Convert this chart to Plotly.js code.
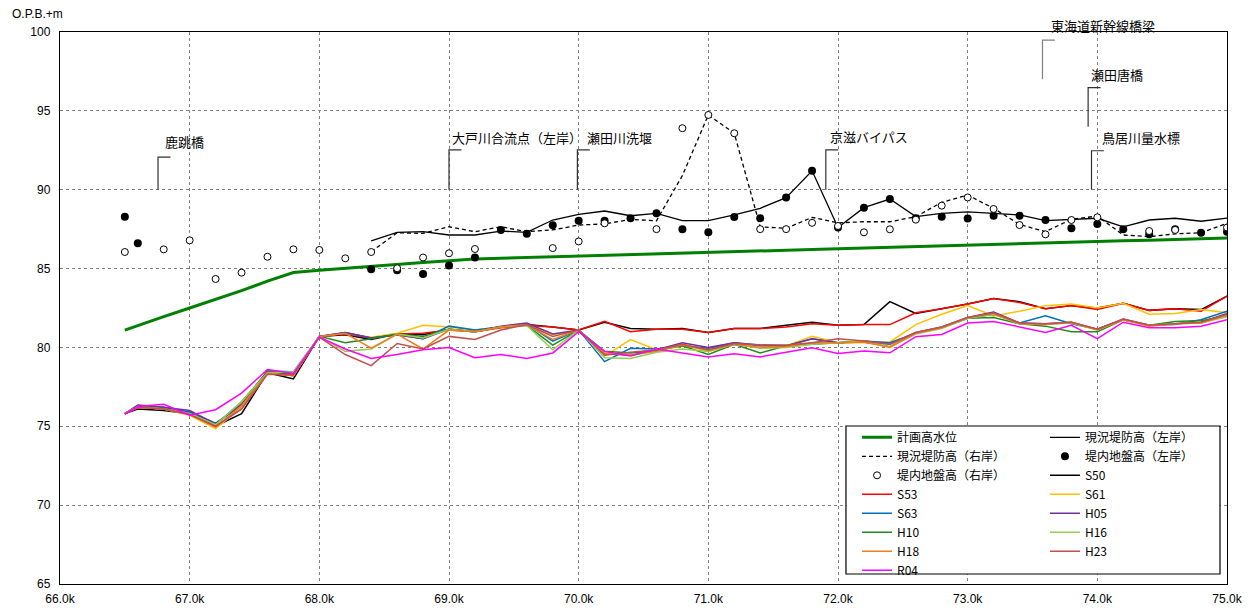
<!DOCTYPE html>
<html>
<head>
<meta charset="utf-8">
<script src="https://cdn.plot.ly/plotly-3.0.1.min.js"></script>
<style>html,body{margin:0;padding:0;background:#fff;}#chart{width:1252px;height:612px;}</style>
</head>
<body>
<div id="chart"></div>
<script>
// ---- data ----
const km = [66.5, 66.6, 66.8, 67.0, 67.2, 67.4, 67.6, 67.8, 68.0, 68.2, 68.4, 68.6, 68.8, 69.0, 69.2, 69.4, 69.6, 69.8, 70.0, 70.2, 70.4, 70.6, 70.8, 71.0, 71.2, 71.4, 71.6, 71.8, 72.0, 72.2, 72.4, 72.6, 72.8, 73.0, 73.2, 73.4, 73.6, 73.8, 74.0, 74.2, 74.4, 74.6, 74.8, 75.0];

const planHWL = [81.1, 81.4, 81.95, 82.5, 83.05, 83.6, 84.2, 84.75, 84.9, 85.03, 85.15, 85.27, 85.39, 85.5, 85.6, 85.65, 85.7, 85.74, 85.79, 85.84, 85.88, 85.93, 85.98, 86.02, 86.07, 86.11, 86.16, 86.21, 86.25, 86.3, 86.34, 86.39, 86.43, 86.48, 86.53, 86.57, 86.62, 86.67, 86.71, 86.76, 86.8, 86.85, 86.9, 86.94];

const leveeLeft = [null, null, null, null, null, null, null, null, null, null, 86.75, 87.3, 87.34, 87.13, 87.13, 87.38, 87.3, 88.08, 88.44, 88.65, 88.35, 88.5, 88.04, 88.04, 88.4, 88.82, 89.5, 91.2, 87.6, 88.86, 89.41, 88.3, 88.5, 88.6, 88.5, 88.4, 88.04, 88.12, 88.19, 87.65, 88.08, 88.19, 88.0, 88.2];
const leveeRight = [null, null, null, null, null, null, null, null, null, null, 86.07, 87.27, 87.23, 87.65, 87.34, 87.65, 87.34, 87.45, 87.76, 87.83, 88.12, 88.03, 90.9, 94.74, 93.58, 87.65, 87.55, 88.25, 87.9, 87.97, 87.97, 88.29, 89.2, 89.66, 88.82, 87.8, 87.34, 88.12, 88.33, 87.13, 87.02, 87.2, 87.27, 87.87];
const groundLeft = [88.29, 86.6, null, null, null, null, null, null, null, null, 84.95, 84.9, 84.65, 85.2, 85.7, 87.44, 87.2, 87.74, 88.04, 88.04, 88.19, 88.5, 87.49, 87.3, 88.27, 88.19, 89.5, 91.2, 87.6, 88.86, 89.41, 88.19, 88.29, 88.17, 88.35, 88.35, 88.08, 87.55, 87.83, 87.49, 87.17, 87.5, 87.27, 87.34];
const groundRight = [86.05, null, 86.22, 86.79, 84.34, 84.74, 85.75, 86.22, 86.18, 85.65, 86.05, 85.02, 85.7, 85.97, 86.24, null, null, 86.3, 86.72, 87.87, null, 87.5, 93.9, 94.74, 93.58, 87.5, 87.5, 87.9, 87.7, 87.3, 87.49, 88.1, 88.99, 89.51, 88.78, 87.76, 87.17, 88.08, 88.25, null, 87.38, 87.45, null, 87.6];

const S50 = [75.8, 76.1, 76.0, 75.8, 75.0, 75.8, 78.4, 78.0, 80.7, 80.8, 80.5, 80.85, 80.8, 81.15, 81.0, 81.3, 81.45, 81.3, 81.1, 81.6, 81.2, 81.15, 81.2, 80.95, 81.2, 81.2, 81.4, 81.6, 81.4, 81.45, 82.9, 82.15, 82.45, 82.75, 83.1, 82.9, 82.45, 82.65, 82.5, 82.8, 82.35, 82.45, 82.4, 83.25];
const S53 = [75.8, 76.2, 76.1, 75.8, 75.0, 76.1, 78.4, 78.2, 80.7, 80.85, 80.6, 80.85, 80.9, 81.1, 81.0, 81.25, 81.4, 81.3, 81.1, 81.65, 81.0, 81.15, 81.15, 80.95, 81.2, 81.2, 81.3, 81.5, 81.4, 81.45, 81.45, 82.2, 82.45, 82.75, 83.1, 82.85, 82.45, 82.65, 82.4, 82.8, 82.35, 82.45, 82.3, 83.25];
const S61 = [75.8, 76.2, 76.1, 75.7, 74.85, 76.2, 78.4, 78.2, 80.7, 80.9, 80.65, 80.9, 81.4, 81.3, 81.1, 81.3, 81.45, 80.8, 81.1, 79.45, 80.5, 79.85, 80.2, 79.75, 80.2, 80.0, 80.1, 80.7, 80.3, 80.3, 80.35, 81.45, 82.1, 82.65, 82.0, 82.3, 82.65, 82.75, 82.5, 82.8, 82.1, 82.15, 82.4, 82.2];
const S63 = [75.8, 76.3, 76.2, 75.9, 75.2, 76.3, 78.5, 78.45, 80.7, 80.95, 80.6, 80.8, 80.55, 81.35, 81.1, 81.3, 81.5, 80.4, 81.1, 79.1, 79.95, 79.9, 80.1, 79.95, 80.3, 80.1, 80.1, 80.55, 80.3, 80.4, 80.3, 80.9, 81.25, 81.85, 82.1, 81.55, 82.0, 81.5, 81.15, 81.75, 81.4, 81.45, 81.75, 82.3];
const H05 = [75.8, 76.35, 76.2, 76.0, 75.15, 76.4, 78.5, 78.3, 80.7, 80.95, 80.6, 80.8, 80.55, 81.15, 81.0, 81.35, 81.55, 80.85, 81.1, 79.6, 79.5, 79.85, 80.3, 80.0, 80.3, 80.15, 80.1, 80.55, 80.3, 80.4, 80.2, 80.95, 81.3, 81.9, 82.25, 81.55, 81.5, 81.6, 81.15, 81.8, 81.4, 81.5, 81.6, 82.15];
const H10 = [75.8, 76.25, 76.1, 75.8, 75.1, 76.55, 78.45, 78.3, 80.7, 80.3, 80.55, 80.85, 80.7, 81.15, 81.0, 81.3, 81.4, 80.15, 81.1, 79.75, 79.65, 79.8, 80.1, 79.55, 80.2, 79.65, 80.1, 80.2, 80.3, 80.35, 80.05, 80.9, 81.25, 81.85, 81.9, 81.5, 81.35, 81.0, 81.0, 81.75, 81.4, 81.65, 81.7, 82.0];
const H16 = [75.8, 76.25, 76.1, 75.8, 75.1, 76.55, 78.4, 78.45, 80.7, 79.75, 79.9, 80.85, 80.6, 81.15, 81.0, 81.3, 81.4, 79.85, 81.1, 79.35, 79.3, 79.7, 79.9, 79.75, 80.2, 79.95, 80.0, 80.2, 80.3, 80.4, 80.05, 80.85, 81.2, 81.85, 82.1, 81.5, 81.45, 81.55, 81.1, 81.75, 81.4, 81.5, 81.55, 81.95];
const H18 = [75.8, 76.2, 76.1, 75.75, 74.95, 76.3, 78.35, 78.2, 80.7, 80.9, 79.95, 80.85, 79.9, 81.1, 81.0, 81.3, 81.45, 80.5, 81.1, 79.65, 79.5, 79.75, 80.15, 79.8, 80.2, 80.0, 80.05, 80.3, 80.3, 80.35, 80.0, 80.9, 81.25, 81.9, 82.15, 81.5, 81.45, 81.6, 81.1, 81.75, 81.35, 81.5, 81.55, 82.05];
const H23 = [75.8, 76.2, 76.1, 75.75, 75.0, 76.1, 78.3, 78.25, 80.65, 79.55, 78.85, 80.25, 79.9, 80.7, 80.5, 81.1, 81.45, 80.7, 81.1, 79.5, 79.7, 79.85, 80.2, 79.85, 80.25, 80.15, 80.15, 80.3, 80.55, 80.4, 80.2, 80.95, 81.3, 81.9, 82.2, 81.55, 81.5, 81.6, 81.15, 81.8, 81.4, 81.5, 81.6, 82.1];
const R04 = [75.75, 76.25, 76.4, 75.7, 76.05, 77.1, 78.6, 78.35, 80.65, 79.9, 79.3, 79.55, 79.85, 80.0, 79.35, 79.55, 79.3, 79.65, 81.0, 79.75, 79.45, 79.9, 79.65, 79.4, 79.6, 79.4, 79.7, 79.98, 79.62, 79.77, 79.66, 80.68, 80.82, 81.55, 81.65, 81.3, 80.95, 81.4, 80.55, 81.6, 81.25, 81.25, 81.35, 81.75];

const xTickVals = [66, 67, 68, 69, 70, 71, 72, 73, 74, 75];
const xTickText = ['66.0k', '67.0k', '68.0k', '69.0k', '70.0k', '71.0k', '72.0k', '73.0k', '74.0k', '75.0k'];
const yTickVals = [65, 70, 75, 80, 85, 90, 95, 100];

const landmarkNames = ['鹿跳橋', '大戸川合流点（左岸）', '瀬田川洗堰', '京滋バイパス', '東海道新幹線橋梁', '瀬田唐橋', '鳥居川量水標'];
const landmarkKm = [66.756, 69.0, 69.99, 71.906, 73.577, 73.929, 73.955];
const landmarkTop = [92.07, 92.52, 92.52, 92.52, 99.49, 96.47, 92.47];
const landmarkBottom = [90.0, 90.0, 90.0, 90.0, 97.0, 93.99, 90.0];

// ---- styles ----
const labelXShift = [5, 1, 8, 2, 7, 1, 8];
const labelYShift = [16, 12, 12, 13, 15, 13, 13];
const FONT = 'Liberation Sans, Arial, "Noto Sans CJK JP", sans-serif';
const JFONT = '"Noto Sans CJK JP", "Liberation Sans", sans-serif';
const levels = [
  {name: 'S50', y: S50, color: '#000000', legend: 'legend2', rank: 3},
  {name: 'S53', y: S53, color: '#FF0000', legend: 'legend', rank: 4},
  {name: 'S61', y: S61, color: '#FFC000', legend: 'legend2', rank: 4},
  {name: 'S63', y: S63, color: '#0070C0', legend: 'legend', rank: 5},
  {name: 'H05', y: H05, color: '#7030A0', legend: 'legend2', rank: 5},
  {name: 'H10', y: H10, color: '#1E8C1E', legend: 'legend', rank: 6},
  {name: 'H16', y: H16, color: '#92D050', legend: 'legend2', rank: 6},
  {name: 'H18', y: H18, color: '#F07D1E', legend: 'legend', rank: 7},
  {name: 'H23', y: H23, color: '#C0504D', legend: 'legend2', rank: 7},
  {name: 'R04', y: R04, color: '#FF00FF', legend: 'legend', rank: 8}
];

const traces = [];
levels.forEach(s => traces.push({
  x: km, y: s.y, name: s.name, type: 'scatter', mode: 'lines',
  line: {color: s.color, width: 1.5}, legend: s.legend, legendrank: s.rank
}));
traces.push({x: km, y: planHWL, name: '計画高水位', type: 'scatter', mode: 'lines',
  line: {color: '#008000', width: 3}, legend: 'legend', legendrank: 1});
traces.push({x: km, y: leveeLeft, name: '現況堤防高（左岸）', type: 'scatter', mode: 'lines',
  line: {color: '#000000', width: 1.3}, legend: 'legend2', legendrank: 1});
traces.push({x: km, y: leveeRight, name: '現況堤防高（右岸）', type: 'scatter', mode: 'lines',
  line: {color: '#000000', width: 1.3, dash: '4px,3px'}, legend: 'legend', legendrank: 2});
traces.push({x: km, y: groundLeft, name: '堤内地盤高（左岸）', type: 'scatter', mode: 'markers',
  marker: {color: '#000000', size: 8, symbol: 'circle'}, legend: 'legend2', legendrank: 2});
traces.push({x: km, y: groundRight, name: '堤内地盤高（右岸）', type: 'scatter', mode: 'markers',
  marker: {color: '#ffffff', size: 7, symbol: 'circle', line: {color: '#000000', width: 1}}, legend: 'legend', legendrank: 3});

const shapes = [];
const annotations = [];
landmarkNames.forEach((n, i) => {
  const x0 = landmarkKm[i];
  shapes.push({type: 'path', xref: 'x', yref: 'y', layer: 'above',
    path: `M ${x0},${landmarkBottom[i]} L ${x0},${landmarkTop[i]} L ${x0 + 0.096},${landmarkTop[i]}`,
    line: {color: i === 4 ? '#808080' : '#303030', width: 1.2}});
  annotations.push({xref: 'x', yref: 'y', x: x0, y: landmarkTop[i], text: n, showarrow: false,
    xanchor: 'left', yanchor: 'middle', xshift: labelXShift[i], yshift: labelYShift[i],
    font: {family: JFONT, size: 13, color: '#000'}});
});
// legend box
shapes.push({type: 'rect', xref: 'paper', yref: 'paper', layer: 'above',
  x0: 0.6735, x1: 0.994, y0: 0.0181, y1: 0.2862,
  fillcolor: '#ffffff', line: {color: '#000000', width: 1.2}});
annotations.push({xref: 'paper', yref: 'paper', x: -0.0428, y: 1.0326, xanchor: 'left', yanchor: 'middle',
  text: 'O.P.B.+m', showarrow: false, font: {family: FONT, size: 12, color: '#000'}});

const axisCommon = {
  showgrid: true, gridcolor: '#808080', griddash: 'dot', gridwidth: 1,
  showline: true, linecolor: '#000', linewidth: 1.2, mirror: true,
  zeroline: false, ticks: '', tickfont: {family: FONT, size: 12, color: '#000'}
};
const legendCommon = {
  xanchor: 'left', yanchor: 'top', bgcolor: 'rgba(0,0,0,0)', borderwidth: 0,
  font: {family: JFONT, size: 12, color: '#000'}, tracegroupgap: 0, traceorder: 'normal',
  itemclick: false, itemdoubleclick: false
};

const layout = {
  width: 1252, height: 612,
  margin: {l: 60, r: 25, t: 32, b: 28, pad: 0},
  paper_bgcolor: '#fff', plot_bgcolor: '#fff',
  font: {family: FONT, size: 12, color: '#000'},
  xaxis: Object.assign({}, axisCommon, {range: [66, 75], tickvals: xTickVals, ticktext: xTickText, ticklabelstandoff: 3}),
  yaxis: Object.assign({}, axisCommon, {range: [65, 100], tickvals: yTickVals, ticklabelstandoff: 6}),
  showlegend: true,
  legend: Object.assign({}, legendCommon, {x: 0.683, y: 0.292}),
  legend2: Object.assign({}, legendCommon, {x: 0.844, y: 0.292}),
  shapes: shapes,
  annotations: annotations
};

Plotly.newPlot('chart', traces, layout, {displayModeBar: false, staticPlot: true});
</script>
</body>
</html>
